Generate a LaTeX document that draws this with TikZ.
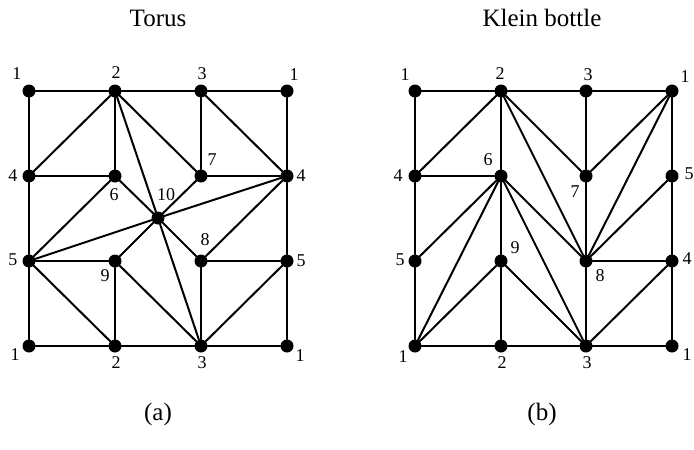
\documentclass[tikz,border=0pt]{standalone}
\usepackage{fontspec}
\setmainfont{Liberation Serif}
\begin{document}
\begin{tikzpicture}[x=1pt,y=-1pt,
  vtx/.style={circle,fill=black,inner sep=0pt,minimum size=13pt},
  num/.style={font=\fontsize{18}{21}\selectfont,inner sep=0pt},
  ttl/.style={font=\fontsize{25}{29}\selectfont,inner sep=0pt},
  edge/.style={line width=2pt,line cap=round}]
\useasboundingbox (0,0) rectangle (694,450);

% ---------- (a) torus ----------
\node[vtx] (aTL) at (29,91) {};
\node[vtx] (aT2) at (115,91) {};
\node[vtx] (aT3) at (201,91) {};
\node[vtx] (aTR) at (287,91) {};
\node[vtx] (aL4) at (29,176) {};
\node[vtx] (a6)  at (115,176) {};
\node[vtx] (a7)  at (201,176) {};
\node[vtx] (aR4) at (287,176) {};
\node[vtx] (aL5) at (29,261) {};
\node[vtx] (a9)  at (115,261) {};
\node[vtx] (a8)  at (201,261) {};
\node[vtx] (aR5) at (287,261) {};
\node[vtx] (aBL) at (29,346) {};
\node[vtx] (aB2) at (115,346) {};
\node[vtx] (aB3) at (201,346) {};
\node[vtx] (aBR) at (287,346) {};
\node[vtx] (a10) at (158,218) {};

\draw[edge] (aTL) -- (aT2) -- (aT3) -- (aTR) -- (aR4) -- (aR5) -- (aBR)
  -- (aB3) -- (aB2) -- (aBL) -- (aL5) -- (aL4) -- (aTL);
\draw[edge] (aL4) -- (aT2);
\draw[edge] (aL4) -- (a6);
\draw[edge] (aT2) -- (a6);
\draw[edge] (a6) -- (a10);
\draw[edge] (aL5) -- (a6);
\draw[edge] (aT2) -- (a7);
\draw[edge] (aT2) -- (a10);
\draw[edge] (aT3) -- (a7);
\draw[edge] (aT3) -- (aR4);
\draw[edge] (a7) -- (aR4);
\draw[edge] (a7) -- (a10);
\draw[edge] (a10) -- (aR4);
\draw[edge] (aL5) -- (a10);
\draw[edge] (aL5) -- (a9);
\draw[edge] (a9) -- (a10);
\draw[edge] (aL5) -- (aB2);
\draw[edge] (a9) -- (aB2);
\draw[edge] (a9) -- (aB3);
\draw[edge] (a10) -- (aB3);
\draw[edge] (a10) -- (a8);
\draw[edge] (a8) -- (aR4);
\draw[edge] (a8) -- (aR5);
\draw[edge] (a8) -- (aB3);
\draw[edge] (aR5) -- (aB3);

\node[num] (laTL) at (17,74) {1};
\node[num] (laT2) at (116,73) {2};
\node[num] (laT3) at (202,74) {3};
\node[num] (laTR) at (294,75) {1};
\node[num] (laL4) at (13,176) {4};
\node[num] (la6)  at (114,195) {6};
\node[num] (la7)  at (212,160) {7};
\node[num] (la10) at (166,195) {10};
\node[num] (laR4) at (301,176) {4};
\node[num] (laL5) at (13,260) {5};
\node[num] (la9)  at (105,276) {9};
\node[num] (la8)  at (205,240) {8};
\node[num] (laR5) at (301,261) {5};
\node[num] (laBL) at (15,355) {1};
\node[num] (laB2) at (116,363) {2};
\node[num] (laB3) at (202,363) {3};
\node[num] (laBR) at (300,356) {1};

\node[ttl] (tA) at (158,18) {Torus};
\node[ttl] (cA) at (158,414) {(a)};

% ---------- (b) Klein bottle ----------
\node[vtx] (bTL) at (415,91) {};
\node[vtx] (bT2) at (501,91) {};
\node[vtx] (bT3) at (586,91) {};
\node[vtx] (bTR) at (672,91) {};
\node[vtx] (bL4) at (415,176) {};
\node[vtx] (b6)  at (501,176) {};
\node[vtx] (b7)  at (586,176) {};
\node[vtx] (bR5) at (672,176) {};
\node[vtx] (bL5) at (415,261) {};
\node[vtx] (b9)  at (501,261) {};
\node[vtx] (b8)  at (586,261) {};
\node[vtx] (bR4) at (672,261) {};
\node[vtx] (bBL) at (415,346) {};
\node[vtx] (bB2) at (501,346) {};
\node[vtx] (bB3) at (586,346) {};
\node[vtx] (bBR) at (672,346) {};

\draw[edge] (bTL) -- (bT2) -- (bT3) -- (bTR) -- (bR5) -- (bR4) -- (bBR)
  -- (bB3) -- (bB2) -- (bBL) -- (bL5) -- (bL4) -- (bTL);
\draw[edge] (bL4) -- (bT2);
\draw[edge] (bL4) -- (b6);
\draw[edge] (bT2) -- (b6);
\draw[edge] (b6) -- (bL5);
\draw[edge] (b6) -- (bBL);
\draw[edge] (b6) -- (b9);
\draw[edge] (b9) -- (bB2);
\draw[edge] (b6) -- (b8);
\draw[edge] (b6) -- (bB3);
\draw[edge] (bT2) -- (b7);
\draw[edge] (bT2) -- (b8);
\draw[edge] (bT3) -- (b7);
\draw[edge] (b7) -- (b8);
\draw[edge] (b8) -- (bB3);
\draw[edge] (bTR) -- (b7);
\draw[edge] (bTR) -- (b8);
\draw[edge] (bR5) -- (b8);
\draw[edge] (b8) -- (bR4);
\draw[edge] (bR4) -- (bB3);
\draw[edge] (b9) -- (bBL);
\draw[edge] (b9) -- (bB3);

\node[num] (lbTL) at (405,75) {1};
\node[num] (lbT2) at (500,74) {2};
\node[num] (lbT3) at (588,75) {3};
\node[num] (lbTR) at (685,77) {1};
\node[num] (lbL4) at (398,176) {4};
\node[num] (lb6)  at (488,160) {6};
\node[num] (lb7)  at (575,192) {7};
\node[num] (lbR5) at (689,174) {5};
\node[num] (lbL5) at (400,260) {5};
\node[num] (lb9)  at (515,248) {9};
\node[num] (lb8)  at (600,276) {8};
\node[num] (lbR4) at (687,259) {4};
\node[num] (lbBL) at (403,357) {1};
\node[num] (lbB2) at (502,363) {2};
\node[num] (lbB3) at (587,363) {3};
\node[num] (lbBR) at (687,355) {1};

\node[ttl] (tB) at (542,18) {Klein bottle};
\node[ttl] (cB) at (542,414) {(b)};
\end{tikzpicture}
\end{document}
